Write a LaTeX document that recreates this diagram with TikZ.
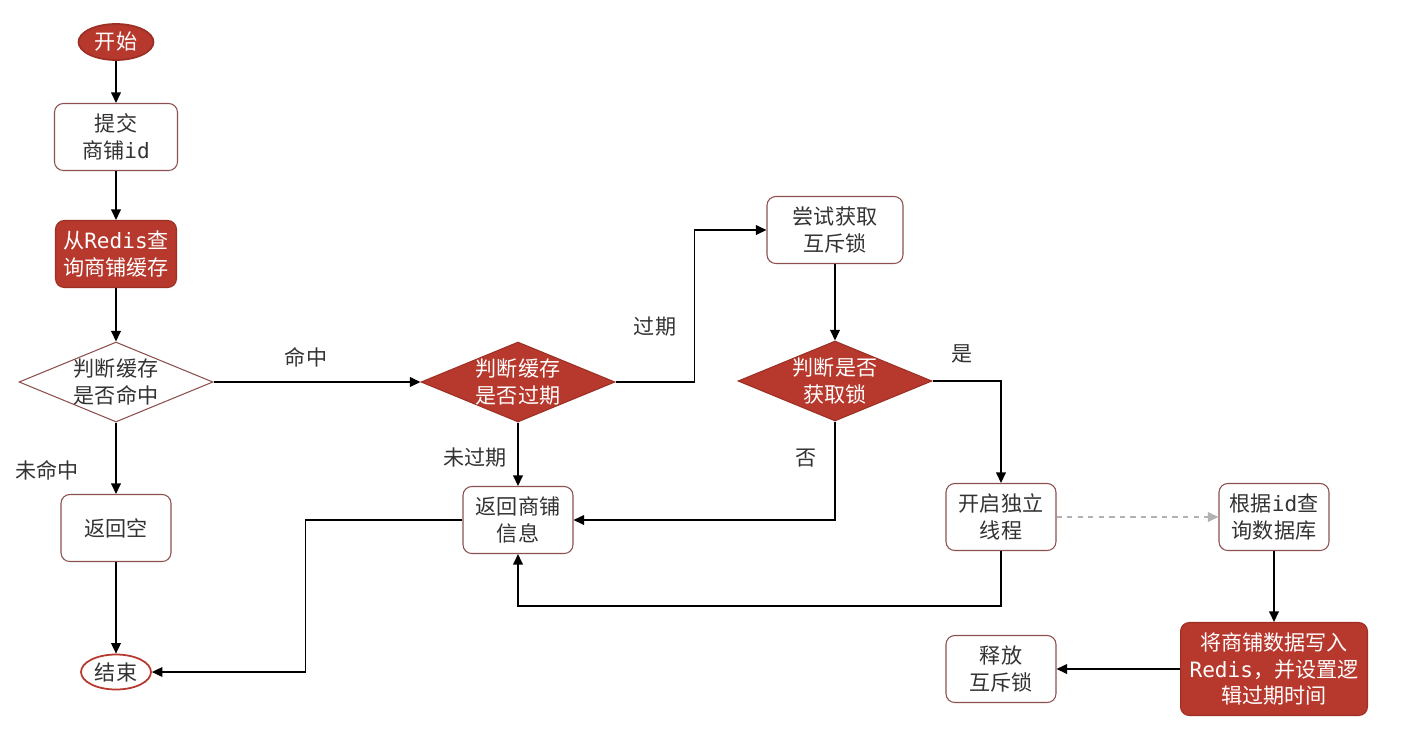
\documentclass[tikz,border=0pt]{standalone}
\usepackage{fontspec}
\setmainfont{Noto Sans CJK SC}
\setmonofont{DejaVu Sans Mono}
\usetikzlibrary{arrows.meta,shapes.geometric}
\definecolor{brick}{RGB}{183,56,44}
\definecolor{edge}{RGB}{140,80,80}
\definecolor{ink}{RGB}{51,51,51}

\begin{document}
\begin{tikzpicture}[x=0.02cm,y=-0.02cm,>={Triangle[length=6pt,width=5.5pt]},line width=0.8pt,
  every node/.style={font=\fontsize{12}{15}\selectfont,text=ink},
  box/.style={draw=edge,line width=0.6pt,rounded corners=5pt,align=center,minimum width=2.2cm,minimum height=1.34cm,fill=white},
  hot/.style={fill=brick,draw=brick!85!black,text=white},
  cond/.style={diamond,draw=edge,line width=0.6pt,align=center,minimum width=3.88cm,minimum height=1.6cm,inner sep=-8pt,fill=white},
  term/.style={ellipse,line width=1pt,minimum width=1.5cm,minimum height=0.72cm,inner sep=0pt}]
\useasboundingbox (0,0) rectangle (1411,755);
% left column
\node[term,hot] (start) at (116,42) {开始};
\node[box,minimum width=2.46cm] (submit) at (116,137) {提交\\商铺\texttt{id}};
\node[box,hot,minimum width=2.42cm] (query) at (116,254) {从\texttt{Redis}查\\询商铺缓存};
\node[cond] (hit) at (116,382) {判断缓存\\是否命中};
\node[box] (empty) at (116,528) {返回空};
\node[term,draw=brick,fill=white,minimum width=1.4cm,minimum height=0.7cm] (finish) at (116,672) {结束};
% middle
\node[cond,hot] (expire) at (518,382) {判断缓存\\是否过期};
\node[box] (ret) at (518,520) {返回商铺\\信息};
\node[box,minimum width=2.72cm] (trylock) at (835,230) {尝试获取\\互斥锁};
\node[cond,hot] (getlock) at (835,381) {判断是否\\获取锁};
% right
\node[box] (thread) at (1001,517) {开启独立\\线程};
\node[box] (dbq) at (1274,517) {根据\texttt{id}查\\询数据库};
\node[box,hot,minimum width=3.74cm,minimum height=1.86cm] (write) at (1274,669) {将商铺数据写入\\\texttt{Redis}，并设置逻\\辑过期时间};
\node[box] (unlock) at (1001,669) {释放\\互斥锁};
% labels
\node (lmiss) at (47,470) {未命中};
\node (lhit) at (306,357) {命中};
\node (lexp) at (655,327) {过期};
\node (lfresh) at (475,458) {未过期};
\node (lno) at (806,458) {否};
\node (lyes) at (962,354) {是};
% arrows
\draw[->] (start) -- (submit);
\draw[->] (submit) -- (query);
\draw[->] (query) -- (hit);
\draw[->] (hit) -- (empty);
\draw[->] (empty) -- (finish);
\draw[->] (hit) -- (expire);
\draw[->] (expire.east) -- ++(79,0) |- (trylock.west);
\draw[->] (expire) -- (ret);
\draw[->] (ret.west) -- ++(-157,0) |- (finish.east);
\draw[->] (trylock) -- (getlock);
\draw[->] (getlock.east) -| (thread.north);
\draw[->] (getlock.south) |- (ret.east);
\draw[->] (thread.south) -- ++(0,55) -| (ret.south);
\draw[->,dashed,gray!60] (thread) -- (dbq);
\draw[->] (dbq) -- (write);
\draw[->] (write) -- (unlock);
\end{tikzpicture}
\end{document}
